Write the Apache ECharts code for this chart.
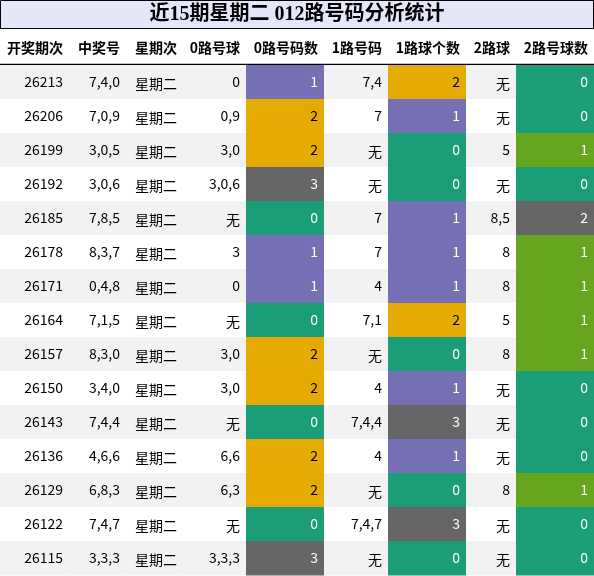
<!DOCTYPE html>
<html>
<head>
<meta charset="utf-8">
<script src="https://cdn.jsdelivr.net/npm/echarts@6/dist/echarts.min.js"></script>
<style>html,body{margin:0;padding:0;background:#fff}#main{width:594px;height:576px}</style>
</head>
<body>
<div id="main"></div>
<script>
// table data
var headers = ['开奖期次', '中奖号', '星期次', '0路号球', '0路号码数', '1路号码', '1路球个数', '2路球', '2路号球数']
var periods = ['26213', '26206', '26199', '26192', '26185', '26178', '26171', '26164', '26157', '26150', '26143', '26136', '26129', '26122', '26115']
var numbers = ['7,4,0', '7,0,9', '3,0,5', '3,0,6', '7,8,5', '8,3,7', '0,4,8', '7,1,5', '8,3,0', '3,4,0', '7,4,4', '4,6,6', '6,8,3', '7,4,7', '3,3,3']
var weekdays = ['星期二', '星期二', '星期二', '星期二', '星期二', '星期二', '星期二', '星期二', '星期二', '星期二', '星期二', '星期二', '星期二', '星期二', '星期二']
var zeroBalls = ['0', '0,9', '3,0', '3,0,6', '无', '3', '0', '无', '3,0', '3,0', '无', '6,6', '6,3', '无', '3,3,3']
var zeroCounts = [1, 2, 2, 3, 0, 1, 1, 0, 2, 2, 0, 2, 2, 0, 3]
var oneBalls = ['7,4', '7', '无', '无', '7', '7', '4', '7,1', '无', '4', '7,4,4', '4', '无', '7,4,7', '无']
var oneCounts = [2, 1, 0, 0, 1, 1, 1, 2, 0, 1, 3, 1, 0, 3, 0]
var twoBalls = ['无', '无', '5', '无', '8,5', '8', '8', '5', '8', '无', '无', '无', '8', '无', '无']
var twoCounts = [0, 0, 1, 0, 2, 1, 1, 1, 1, 0, 0, 0, 1, 0, 0]

var edges = [0, 69, 126, 183, 246, 324, 388, 466, 516, 594]
var countColors = { 0: '#1b9e77', 1: '#7570b3', 2: '#e6ab02', 3: '#666666' }
var lastColors = { 0: '#1b9e77', 1: '#66a61e', 2: '#666666', 3: '#666666' }
var columns = [periods, numbers, weekdays, zeroBalls, zeroCounts, oneBalls, oneCounts, twoBalls, twoCounts]
var font = '"Noto Sans CJK SC", "Noto Sans", sans-serif'

var cells = []
periods.forEach(function (p, r) {
  columns.forEach(function (col, c) {
    cells.push([c, r, col[r]])
  })
})

function cellFill(c, r, v) {
  if (c == 4 || c == 6) return countColors[v]
  if (c == 8) return lastColors[v]
  return r % 2 == 0 ? '#f2f2f2' : '#ffffff'
}

var chart = echarts.init(document.getElementById('main'))
chart.setOption({
  animation: false,
  grid: { left: 0, right: 0, top: 65, bottom: 1 },
  xAxis: { type: 'value', min: 0, max: 594, show: false },
  yAxis: { type: 'category', data: periods, inverse: true, show: false },
  graphic: [
    { type: 'rect', shape: { x: 0.5, y: 0.5, width: 593, height: 28 }, style: { fill: '#e6e6fa', stroke: '#000', lineWidth: 1 } },
    { type: 'text', x: 297, y: 15, style: { text: '近15期星期二 012路号码分析统计', fill: '#000', font: 'bold 20px "Liberation Serif", "Noto Sans CJK SC", serif', align: 'center', verticalAlign: 'middle' } },
    { type: 'line', shape: { x1: 0, y1: 64.5, x2: 594, y2: 64.5 }, style: { stroke: '#000', lineWidth: 1.5 } }
  ].concat(headers.map(function (h, i) {
    return { type: 'text', x: edges[i + 1] - 6, y: 48, style: { text: h, fill: '#000', font: 'bold 14px ' + font, align: 'right', verticalAlign: 'middle' } }
  })),
  series: [{
    type: 'custom',
    data: cells,
    renderItem: function (params, api) {
      var c = api.value(0), r = api.value(1)
      var v = cells[params.dataIndex][2]
      var top = api.coord([0, r])[1] - api.size([0, 1])[1] / 2
      var h = api.size([0, 1])[1]
      var x0 = api.coord([edges[c], r])[0], x1 = api.coord([edges[c + 1], r])[0]
      var fill = cellFill(c, r, v)
      var colored = c == 4 || c == 6 || c == 8
      var tc = colored ? (fill == '#e6ab02' ? '#000' : '#ffffff') : '#000'
      return {
        type: 'group',
        children: [
          { type: 'rect', shape: { x: x0, y: top, width: x1 - x0 + 0.5, height: h + 0.5 }, style: { fill: fill } },
          { type: 'text', x: x1 - 6, y: top + h / 2 + (c == 2 || v == '无' ? 2 : 0), style: { text: String(v), fill: tc, font: '14px ' + font, align: 'right', verticalAlign: 'middle' } }
        ]
      }
    }
  }]
})
</script>
</body>
</html>
